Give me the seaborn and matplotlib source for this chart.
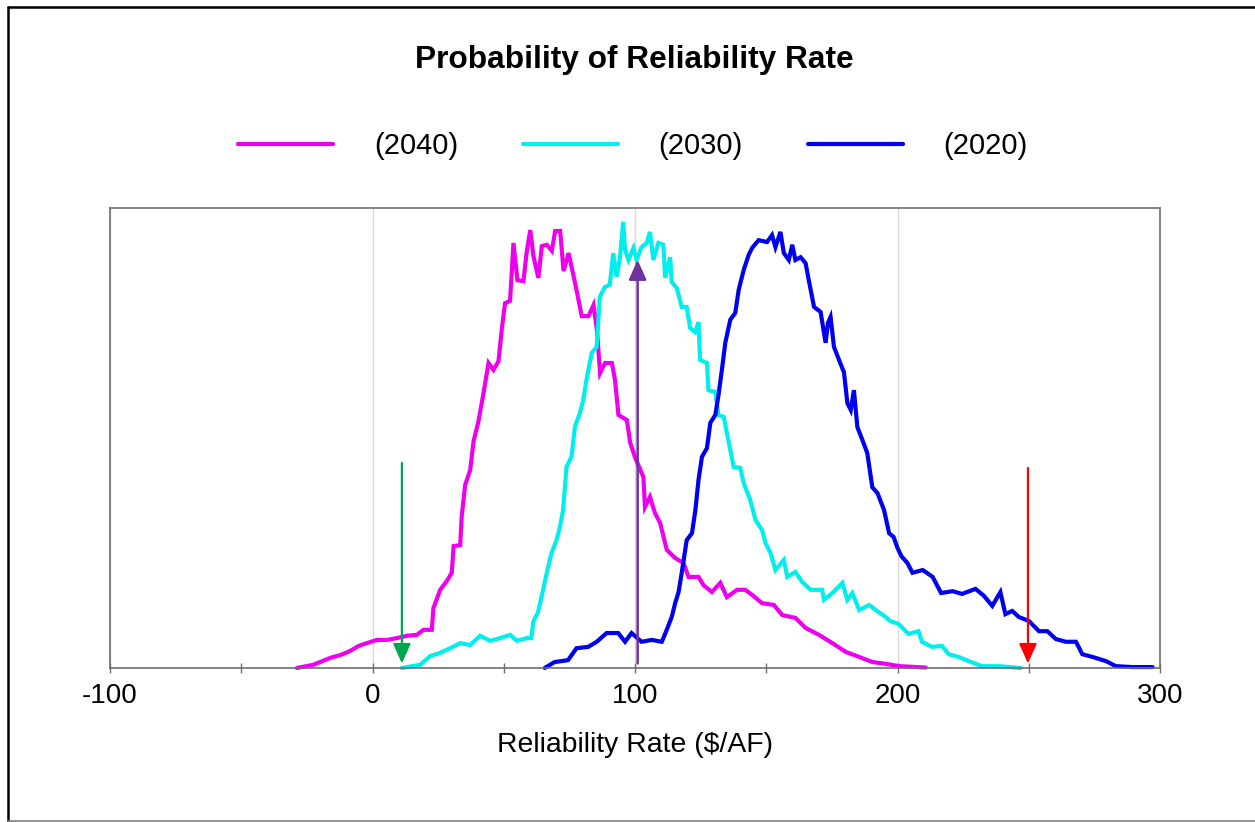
import matplotlib
matplotlib.use("Agg")
import matplotlib.pyplot as plt
from matplotlib.lines import Line2D
from matplotlib.ticker import MultipleLocator
import pandas as pd
import seaborn as sns

# Reliability rate ($/AF) and relative probability for each planning year
rate_2040 = [-28.8, -22.5, -16.1, -12.3, -8.5, -5.3, -2.2, 1.7, 5.5, 9.3, 13.1, 16.9,
             19.4, 22.6, 23.2, 25.8, 28.3, 30.2, 30.9, 33.4, 34.0, 35.3, 37.2, 38.5,
             40.4, 42.3, 44.2, 46.1, 48.0, 49.3, 50.5, 52.4, 53.7, 55.2, 57.5, 58.8,
             60.1, 61.3, 63.2, 64.5, 66.4, 68.3, 69.6, 71.5, 72.8, 74.7, 76.6, 77.8,
             79.7, 82.3, 84.2, 85.5, 86.7, 88.6, 91.2, 92.4, 93.7, 96.9, 98.2, 100.1,
             103.2, 103.8, 105.7, 107.6, 109.6, 112.1, 115.3, 118.5, 120.4, 124.2,
             126.1, 129.3, 132.5, 135.0, 138.9, 142.0, 144.6, 148.4, 152.9, 156.1,
             161.1, 165.0, 170.1, 175.2, 180.3, 185.4, 190.4, 195.5, 200.6, 210.8]
prob_2040 = [0.0, 0.7, 2.2, 2.8, 3.7, 4.8, 5.4, 6.1, 6.1, 6.5, 7.0, 7.2,
             8.3, 8.3, 13.0, 17.0, 18.9, 20.7, 26.5, 26.7, 33.0, 39.8, 43.0, 49.3,
             53.7, 59.8, 66.3, 64.8, 66.7, 73.9, 79.3, 79.8, 92.4, 84.3, 84.1, 90.7,
             95.2, 89.6, 84.8, 91.7, 92.0, 90.7, 95.0, 95.0, 86.3, 90.2, 85.2, 82.0,
             76.5, 76.5, 78.9, 73.5, 64.1, 66.3, 66.3, 62.6, 55.0, 53.9, 48.9, 45.7,
             41.5, 35.0, 37.2, 33.7, 31.5, 25.7, 23.9, 22.8, 19.8, 19.8,
             18.0, 16.5, 18.5, 15.4, 17.0, 17.0, 15.9, 14.1, 13.7, 11.5,
             10.9, 8.7, 7.2, 5.4, 3.5, 2.4, 1.3, 0.9, 0.4, 0.1]

rate_2030 = [11.2, 18.2, 22.0, 25.8, 29.6, 33.4, 37.2, 41.0, 44.8, 48.6, 52.4, 55.0,
             58.8, 60.5, 61.3, 63.0, 65.0, 66.2, 68.2, 70.1, 71.3, 72.6, 73.9, 75.8,
             77.1, 79.0, 80.3, 81.5, 83.5, 85.4, 86.6, 88.5, 90.4, 91.7, 93.0, 94.3,
             95.5, 96.2, 97.5, 99.4, 100.6, 102.5, 104.5, 105.7, 107.0, 108.9, 110.8,
             111.5, 113.4, 114.0, 115.9, 117.8, 119.7, 121.0, 122.9, 124.2, 124.8,
             127.4, 128.0, 130.6, 131.8, 133.8, 135.0, 136.3, 137.6, 140.1, 141.4,
             143.9, 145.9, 148.4, 149.7, 151.6, 153.5, 156.7, 158.0, 161.1, 163.7,
             166.9, 171.3, 172.0, 175.2, 179.0, 180.9, 182.8, 185.4, 189.2, 191.7,
             195.5, 197.2, 200.4, 204.2, 208.0, 209.3, 213.1, 216.9, 219.5, 223.3,
             227.1, 232.2, 238.6, 246.9]
prob_2030 = [0.0, 0.7, 2.6, 3.3, 4.3, 5.4, 5.0, 7.0, 5.9, 6.5, 7.2, 5.9,
             6.5, 6.5, 10.2, 12.0, 17.0, 20.2, 25.0, 27.8, 30.4, 34.3, 43.7, 45.9,
             52.4, 55.4, 58.3, 62.6, 68.5, 69.8, 80.7, 82.8, 83.3, 90.2, 85.0, 89.3,
             97.0, 90.9, 88.7, 91.3, 88.7, 91.5, 92.4, 94.8, 88.7, 92.4, 92.0,
             84.8, 89.3, 83.9, 82.6, 78.5, 78.5, 73.9, 73.0, 75.2, 67.0,
             66.3, 60.4, 60.0, 55.0, 54.6, 51.1, 47.4, 43.7, 43.5, 40.2,
             36.5, 32.2, 30.0, 27.2, 25.0, 21.3, 23.5, 19.8, 20.9, 18.7,
             17.0, 17.0, 14.8, 16.3, 18.5, 14.8, 16.3, 12.6, 13.7, 12.6,
             11.1, 10.2, 9.6, 7.4, 8.0, 5.7, 4.6, 4.8, 3.0, 2.4,
             1.5, 0.4, 0.4, 0.0]

rate_2020 = [65.6, 69.4, 74.5, 77.7, 82.2, 85.4, 89.2, 93.6, 96.2, 98.7, 102.5, 106.4,
             110.2, 112.1, 114.0, 115.3, 116.6, 117.8, 119.7, 121.7, 123.0, 124.2,
             125.5, 127.4, 128.7, 130.6, 131.8, 133.1, 134.4, 136.3, 138.2, 139.5,
             141.4, 143.3, 144.6, 147.1, 150.3, 152.2, 153.5, 155.4, 156.7, 158.6,
             159.9, 161.1, 163.1, 165.0, 166.2, 168.2, 170.7, 172.6, 173.5, 174.5,
             175.8, 177.7, 179.6, 180.9, 182.2, 183.4, 184.7, 186.6, 188.5, 190.4,
             192.4, 194.9, 196.8, 198.5, 200.0, 201.5, 203.8, 205.7, 209.6, 213.4,
             216.6, 221.0, 224.6, 229.7, 232.9, 236.1, 239.2, 241.1, 243.7, 246.2,
             250.1, 253.9, 257.1, 260.3, 264.1, 268.0, 270.4, 274.3, 279.4, 283.2,
             289.6, 297.2]
prob_2020 = [0.0, 1.3, 1.7, 4.3, 4.6, 5.7, 7.6, 7.6, 5.7, 7.6, 5.7, 6.1,
             5.7, 8.3, 11.1, 14.1, 16.5, 20.7, 27.8, 29.3, 34.3, 40.9,
             45.9, 47.8, 53.3, 55.0, 59.3, 64.8, 70.7, 75.7, 77.2, 82.2,
             86.5, 89.8, 91.3, 93.0, 92.6, 94.1, 91.5, 94.8, 90.2, 88.7,
             92.0, 88.7, 89.3, 88.0, 84.3, 78.5, 77.4, 70.7, 75.0, 76.3,
             69.8, 67.0, 64.3, 57.6, 56.1, 60.4, 52.4, 49.6, 46.7, 39.3,
             38.0, 34.3, 29.3, 28.5, 26.1, 24.3, 22.8, 20.7, 21.3, 19.8,
             16.3, 16.7, 16.1, 17.2, 15.7, 13.5, 16.5, 11.7, 12.4, 11.1,
             10.2, 8.0, 8.0, 6.3, 5.7, 5.7, 3.0, 2.4, 1.5, 0.4,
             0.2, 0.2]

series_labels = ["(2040)", "(2030)", "(2020)"]
series_colors = ["#EE00EE", "#00EEEE", "#0000EE"]

# Marker rates: low bound, expected value, high bound
low_rate, low_top = 11.2, 44.6
mid_rate, mid_top = 101.0, 88.7
high_rate, high_top = 249.7, 43.5

frames = []
for lab, xs, ys in zip(series_labels,
                       [rate_2040, rate_2030, rate_2020],
                       [prob_2040, prob_2030, prob_2020]):
    frames.append(pd.DataFrame({"rate": xs, "prob": ys, "year": lab}))
df = pd.concat(frames, ignore_index=True)

sns.set_theme(style="white")
plt.rcParams["font.family"] = ["Liberation Sans", "DejaVu Sans"]
plt.rcParams["axes.unicode_minus"] = False
plt.rcParams["text.color"] = "black"

fig = plt.figure(figsize=(12.55, 8.22), dpi=100)
ax = fig.add_axes([110 / 1255, 1 - 668 / 822, 1050 / 1255, 460 / 822])

for lab, col in zip(series_labels, series_colors):
    sub = df[df["year"] == lab]
    sns.lineplot(data=sub, x="rate", y="prob", ax=ax, color=col, lw=3.0,
                 label=lab, estimator=None, sort=True, clip_on=False,
                 solid_joinstyle="miter")

arrow_head = "-|>,head_length=0.6,head_width=0.27"
ax.annotate("", xy=(low_rate, 1.0), xytext=(low_rate, low_top),
            arrowprops=dict(arrowstyle=arrow_head, color="#00A650", lw=1.6,
                            mutation_scale=20, shrinkA=0, shrinkB=0))
ax.annotate("", xy=(high_rate, 1.0), xytext=(high_rate, high_top),
            arrowprops=dict(arrowstyle=arrow_head, color="#FF0000", lw=1.6,
                            mutation_scale=20, shrinkA=0, shrinkB=0))
ax.annotate("", xy=(mid_rate, mid_top), xytext=(mid_rate, 1.0),
            arrowprops=dict(arrowstyle=arrow_head, color="#7030A0", lw=1.8,
                            mutation_scale=20, shrinkA=0, shrinkB=0))

ax.set_xlim(-100, 300)
ax.set_ylim(0, 100)
ax.xaxis.set_major_locator(MultipleLocator(100))
ax.xaxis.set_minor_locator(MultipleLocator(50))
ax.set_yticks([])
ax.set_ylabel("")
ax.grid(axis="x", which="major", color="#D9D9D9", lw=1)
ax.grid(axis="y", visible=False)
ax.tick_params(axis="x", which="both", direction="inout", length=6.5, width=1,
               color="#6E6E6E", labelsize=20, labelcolor="black", pad=7.5,
               bottom=True)
for sp in ax.spines.values():
    sp.set_color("#6E6E6E")
    sp.set_linewidth(1.2)
    sp.set_visible(True)
ax.set_xlabel(r"Reliability Rate (\$/AF)", fontsize=20.4, color="black", labelpad=16.5)

handles, labels = ax.get_legend_handles_labels()
ax.get_legend().remove()
leg = fig.legend(handles, labels, loc="center", bbox_to_anchor=(633 / 1255, 1 - 146 / 822),
                 ncol=3, frameon=False, fontsize=21, handlelength=3.25,
                 handletextpad=1.4, columnspacing=2.23)
for t in leg.get_texts():
    t.set_color("black")

fig.text(634 / 1255, 1 - 68.3 / 822, "Probability of Reliability Rate",
         ha="center", va="baseline", fontsize=22.8, fontweight="bold", color="black")

# Outer chart frame
fig.add_artist(Line2D([8 / 1255, 8 / 1255], [1 - 821 / 822, 1 - 7 / 822],
                      transform=fig.transFigure, color="black", lw=1.8))
fig.add_artist(Line2D([8 / 1255, 1.0], [1 - 7 / 822, 1 - 7 / 822],
                      transform=fig.transFigure, color="black", lw=1.8))
fig.add_artist(Line2D([8 / 1255, 1.0], [1 - 821 / 822, 1 - 821 / 822],
                      transform=fig.transFigure, color="#808080", lw=1.2))

fig.savefig("out.png", dpi=100)
